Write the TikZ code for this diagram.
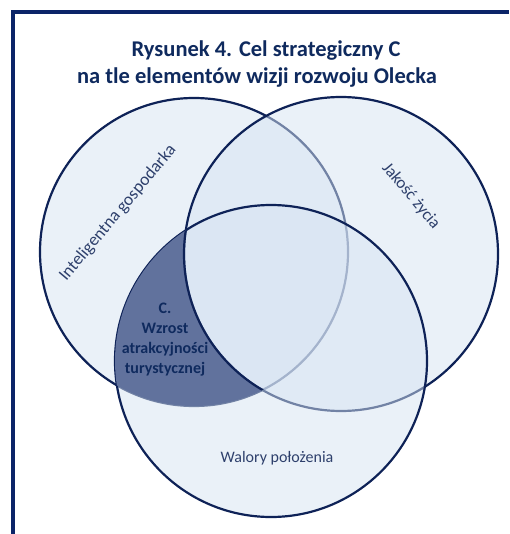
\documentclass[tikz,border=0pt]{standalone}
\usepackage{fontspec}
\setmainfont{Carlito}
\usepackage{xcolor}
\usetikzlibrary{positioning}

\definecolor{ramka}{HTML}{0B2468}
\definecolor{linia}{HTML}{0E2257}
\definecolor{wypelnienie}{HTML}{D7E4F3}
\definecolor{cel}{HTML}{61729D}
\definecolor{tekst}{HTML}{2E406C}
\definecolor{tytul}{HTML}{0F2A5E}

\begin{document}
\begin{tikzpicture}[x=1pt,y=-1pt,
	krag/.style={draw=linia,line width=2.2pt,fill=wypelnienie,fill opacity=.5},
	etykieta/.style={text=tekst,font=\fontsize{16}{19}\selectfont}]

	\useasboundingbox (0,0) rectangle (509,534);
	\fill [white] (0,0) rectangle (509,534);

	% ramka
	\draw [ramka,line width=4pt] (13,534) -- (13,12) -- (509,12);

	\node [tytul,font=\fontsize{22.5}{27}\selectfont\bfseries,anchor=base] (tytul1) at (266,57) {Rysunek 4. Cel strategiczny C};
	\node [tytul,font=\fontsize{22.5}{27}\selectfont\bfseries,anchor=base] (tytul2) at (257,84) {na tle elementów wizji rozwoju Olecka};

	% kregi
	\coordinate (gosp) at (194,252);
	\coordinate (jakosc) at (341,254);
	\coordinate (walory) at (271,361);

	\draw [krag] (gosp) circle (154pt);
	\draw [krag] (jakosc) circle (157pt);
	\draw [krag] (walory) circle (156pt);

	% cel C
	\begin{scope}
		\clip (gosp) circle (154pt);
		\clip (walory) circle (156pt);
		\fill [cel,even odd rule] (0,0) rectangle (509,534) (jakosc) circle (157pt);
		\draw [linia,line width=2.2pt] (jakosc) circle (157pt);
	\end{scope}

	\node [etykieta,font=\fontsize{17.5}{20}\selectfont,rotate=50] (gospodarka) at (118,213) {Inteligentna gospodarka};
	\node [etykieta,font=\fontsize{17}{20}\selectfont,rotate=-50] (zycie) at (411,196) {Jakość życia};
	\node [etykieta] (polozenie) at (277,458) {Walory położenia};

	\node [tytul,font=\fontsize{16}{20}\selectfont\bfseries,align=center] (celC) at (165,340) {C.\\Wzrost\\atrakcyjności\\turystycznej};

\end{tikzpicture}
\end{document}
